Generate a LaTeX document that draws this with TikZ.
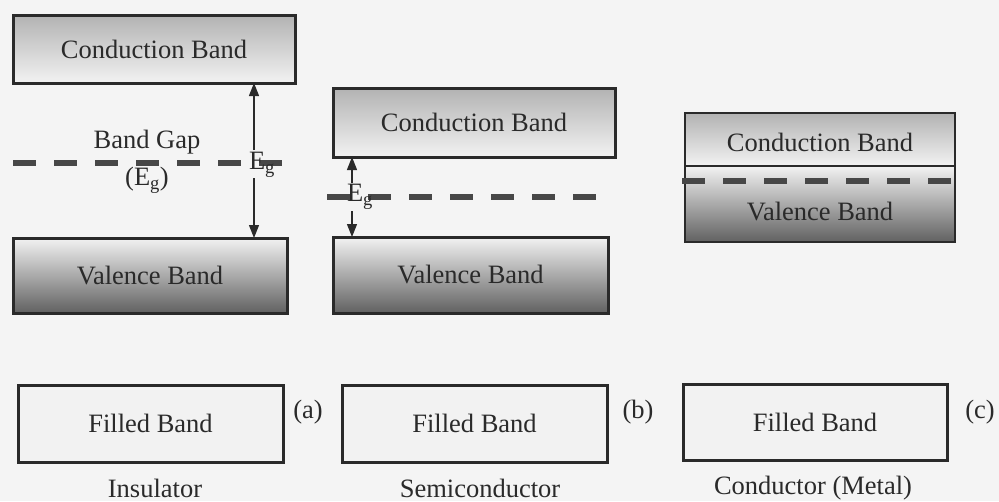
\documentclass[tikz,border=0pt]{standalone}
\usepackage{fontspec}
\setmainfont{Liberation Serif}
\usetikzlibrary{arrows.meta,calc}
\definecolor{ink}{HTML}{2A2A2A}
\definecolor{bg}{HTML}{F4F4F4}
\definecolor{dashc}{HTML}{474747}
\begin{document}
\begin{tikzpicture}[x=1pt,y=-1pt,
  every node/.style={font=\fontsize{26.5}{31}\selectfont, text=ink},
  band/.style={draw=ink, line width=3pt, inner sep=0pt, outer sep=0pt, rectangle},
  cband/.style={band, top color=black!30, bottom color=black!5},
  vband/.style={band, top color=black!5, bottom color=black!62},
  fband/.style={band, fill=black!5},
  fermi/.style={draw=dashc, line width=6pt, dash pattern=on 23pt off 18pt},
  gap/.style={draw=ink, line width=1.3pt, -{Triangle[length=13pt,width=10pt]}},
  lbl/.style={inner sep=0pt}
]
\fill[bg] (0,0) rectangle (999,501);
\useasboundingbox (0,0) rectangle (999,501);

% (a) Insulator
\node[cband, minimum width=282pt, minimum height=68pt] (icb) at (154,49) {Conduction Band};
\node[vband, minimum width=274pt, minimum height=75pt] (ivb) at (150,275.5) {Valence Band};
\coordinate (idl) at (13,163);
\coordinate (idr) at (292,163);
\draw[fermi] (idl) -- (idr);
\node[lbl] (igap) at (147,142) {Band Gap};
\node[lbl] (igap2) at (147,180) {(E\textsubscript{g})};
\node[lbl] (ieg) at (262,165) {E\textsubscript{g}};
\coordinate (iau) at (254,150);
\coordinate (iad) at (254,178);
\draw[gap] (iau) -- (iau |- icb.south);
\draw[gap] (iad) -- (iad |- ivb.north);

% (b) Semiconductor
\node[cband, minimum width=282pt, minimum height=69pt] (scb) at (474,122.5) {Conduction Band};
\node[vband, minimum width=275pt, minimum height=76pt] (svb) at (470.5,275) {Valence Band};
\coordinate (sdl) at (327,197);
\coordinate (sdr) at (604,197);
\draw[fermi] (sdl) -- (sdr);
\node[lbl] (seg) at (360,197) {E\textsubscript{g}};
\coordinate (sau) at (352,183);
\coordinate (sad) at (352,211);
\draw[gap] (sau) -- (sau |- scb.south);
\draw[gap] (sad) -- (sad |- svb.north);

% (c) Conductor
\node[cband, minimum width=270pt, minimum height=53pt, line width=2.5pt] (ccb) at (820,139.5) {};
\node[vband, minimum width=270pt, minimum height=76pt, line width=2.5pt] (cvb) at (820,204) {};
\node[lbl] (cct) at (820,142) {Conduction Band};
\node[lbl] (cvt) at (820,212) {Valence Band};
\coordinate (cdl) at (682,181);
\coordinate (cdr) at (957,181);
\draw[fermi] (cdl) -- (cdr);

% Filled bands
\node[fband, minimum width=265pt, minimum height=77pt] (fa) at (150.5,423.5) {Filled Band};
\node[fband, minimum width=265pt, minimum height=77pt] (fb) at (474.5,423.5) {Filled Band};
\node[fband, minimum width=264pt, minimum height=76pt] (fc) at (815,422) {Filled Band};
\node[lbl] (la) at (308,412) {(a)};
\node[lbl] (lb) at (638,412) {(b)};
\node[lbl] (lc) at (980,412) {(c)};

% captions
\node[lbl] (ca) at (155,488) {Insulator};
\node[lbl] (cb) at (480,488) {Semiconductor};
\node[lbl] (cc) at (813,488) {Conductor (Metal)};
\end{tikzpicture}
\end{document}
